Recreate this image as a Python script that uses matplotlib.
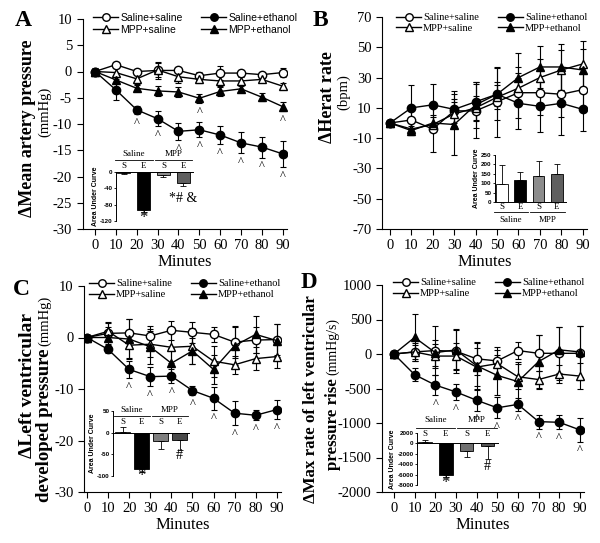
import matplotlib
matplotlib.use("Agg")
import matplotlib.pyplot as plt

plt.rcParams["font.family"] = "Liberation Serif"
plt.rcParams["axes.unicode_minus"] = False

# ---------------- data ----------------
minutes = [0, 10, 20, 30, 40, 50, 60, 70, 80, 90]
series_names = ["Saline+saline", "Saline+ethanol", "MPP+saline", "MPP+ethanol"]

# A: mean artery pressure (mmHg)
map_ss = [0, 1.3, 0.0, 0.2, 0.2, -0.8, -0.3, -0.3, -0.6, -0.2]
map_ss_err = [0.6, 0.5, 0.4, 1.6, 0.5, 0.8, 1.4, 0.6, 0.6, 0.9]
map_se = [0, -3.5, -7.3, -9.0, -11.4, -11.1, -12.1, -13.6, -14.4, -15.7]
map_se_err = [0.5, 2.0, 0.8, 1.4, 1.6, 1.4, 1.8, 2.0, 2.0, 2.5]
map_ms = [0, -0.2, -1.4, 0.3, -1.0, -1.5, -1.8, -1.8, -1.5, -2.8]
map_ms_err = [0.5, 0.8, 0.9, 1.3, 1.2, 0.7, 1.0, 0.7, 0.5, 0.6]
map_me = [0, -1.6, -3.2, -3.7, -3.9, -5.1, -3.8, -3.3, -4.9, -6.7]
map_me_err = [0.5, 0.6, 0.6, 0.9, 0.9, 0.9, 0.8, 0.6, 0.8, 0.9]

# B: heart rate (bpm)
hr_ss = [0, 2, -4, 8, 8, 14, 20, 20, 19, 22]
hr_ss_err = [1, 8, 15, 8, 18, 23, 17, 15, 15, 15]
hr_se = [0, 10, 12, 9, 14, 19, 13, 11, 13, 9]
hr_se_err = [1, 15, 14, 12, 13, 8, 17, 17, 21, 14]
hr_ms = [0, -4, -1, 6, 10, 17, 23, 30, 35, 39]
hr_ms_err = [1, 4, 5, 8, 8, 8, 10, 12, 13, 15]
hr_me = [0, -5, 0, -1, 12, 19, 30, 37, 37, 35]
hr_me_err = [1, 3, 5, 20, 15, 17, 16, 14, 15, 14]

# C: left ventricular developed pressure (mmHg)
lvdp_ss = [0, 0.8, 0.9, 0.3, 1.4, 1.0, 0.6, -0.9, -0.5, -0.4]
lvdp_ss_err = [0.5, 2.0, 2.6, 2.0, 1.8, 2.0, 1.5, 3.0, 2.5, 3.0]
lvdp_se = [0, -2.3, -6.2, -7.6, -7.5, -10.3, -11.8, -14.7, -15.1, -14.0]
lvdp_se_err = [0.5, 0.8, 1.7, 1.8, 1.3, 0.9, 2.2, 2.3, 1.0, 1.8]
lvdp_ms = [0, 1.2, -1.5, -1.3, -1.9, -1.7, -4.6, -5.3, -4.1, -3.7]
lvdp_ms_err = [0.5, 1.8, 2.5, 2.5, 3.0, 3.5, 3.0, 1.8, 2.3, 2.2]
lvdp_me = [0, 0.0, -0.3, -1.8, -5.0, -2.6, -6.2, -1.6, 0.6, -0.6]
lvdp_me_err = [0.5, 2.0, 3.8, 3.4, 3.0, 2.5, 2.8, 3.8, 3.6, 3.2]

# D: max rate of LV pressure rise (mmHg/s)
dpdt_ss = [0, 30, 50, 40, -70, -100, 50, 10, 10, 10]
dpdt_ss_err = [20, 130, 360, 320, 230, 200, 120, 260, 380, 390]
dpdt_se = [0, -300, -450, -550, -670, -780, -730, -980, -990, -1100]
dpdt_se_err = [20, 90, 150, 120, 150, 150, 90, 100, 100, 170]
dpdt_ms = [0, 30, -30, -30, -190, -140, -330, -370, -290, -320]
dpdt_ms_err = [20, 100, 180, 190, 270, 200, 180, 130, 130, 190]
dpdt_me = [0, 240, 20, 60, -170, -310, -400, -110, 60, 30]
dpdt_me_err = [20, 340, 190, 290, 340, 290, 290, 380, 330, 370]

# insets: area under curve
auc_labels = ["S", "E", "S", "E"]
auc_map = [-3, -92, -8, -27]
auc_map_err = [2, 5, 5, 7]
auc_hr = [95, 115, 140, 150]
auc_hr_err = [100, 45, 80, 50]
auc_lvdp = [2, -85, -20, -17]
auc_lvdp_err = [12, 5, 18, 22]
auc_dpdt = [200, -6000, -1500, -500]
auc_dpdt_err = [500, 400, 1100, 2500]

# ---------------- figure ----------------
W, H = 600, 543
fig = plt.figure(figsize=(6, 5.43), dpi=100)
renderer = fig.canvas.get_renderer()


def px_axes(l, t, r, b):
    return fig.add_axes([l / W, 1 - b / H, (r - l) / W, (b - t) / H])


def stacked_label(x, y_bottom, bold_txt, bold_size, unit_txt, unit_size, gap=3):
    # bold words first (reading bottom-up), then the unit in normal weight
    t = fig.text(x / W, 1 - y_bottom / H, bold_txt, rotation=90, ha="center",
                 va="bottom", fontsize=bold_size, fontweight="bold")
    top = H - t.get_window_extent(renderer).y1
    fig.text(x / W, 1 - (top - gap) / H, unit_txt, rotation=90, ha="center",
             va="bottom", fontsize=unit_size)


styles = [
    dict(marker="o", mfc="white"),
    dict(marker="o", mfc="black"),
    dict(marker="^", mfc="white"),
    dict(marker="^", mfc="black"),
]


def main_panel(ax, data, ylim, yticks, xlim, carets, leg_anchor, leg_font, leg_size):
    handles = []
    for (vals, errs), st, name in zip(data, styles, series_names):
        ax.errorbar(minutes, vals, yerr=errs, fmt="none", ecolor="black",
                    elinewidth=0.8, capsize=2.5, capthick=0.8, zorder=2)
        ln, = ax.plot(minutes, vals, color="black", lw=1, mec="black",
                      ms=6, zorder=3, **st)
        handles.append(ln)
    for si, idxs in carets:
        vals, errs = data[si]
        for i in idxs:
            ax.annotate("^", (minutes[i], vals[i] - errs[i]), xytext=(0, -2),
                        textcoords="offset points", ha="center", va="top",
                        fontsize=9)
    ax.set_xlim(*xlim)
    ax.set_ylim(*ylim)
    ax.set_yticks(yticks)
    ax.set_xticks(minutes)
    ax.spines["top"].set_visible(False)
    ax.spines["right"].set_visible(False)
    ax.tick_params(labelsize=10.5, direction="out", length=4, width=0.8)
    ax.set_xlabel("Minutes", fontsize=12, labelpad=1)
    ax.legend([handles[0], handles[2], handles[1], handles[3]],
              [series_names[0], series_names[2], series_names[1], series_names[3]],
              ncol=2, frameon=False, loc="upper left",
              bbox_to_anchor=(leg_anchor[0] / W, 1 - leg_anchor[1] / H),
              bbox_transform=fig.transFigure, borderaxespad=0, borderpad=0,
              handlelength=2.4, handletextpad=0.2, columnspacing=1.8,
              labelspacing=0.15, markerscale=0.9,
              prop={"family": leg_font, "size": leg_size})


def inset(ax, vals, errs, ylim, yticks, colors, xlim, width):
    xs = list(range(len(vals)))
    ax.bar(xs, vals, width=width, color=colors, edgecolor="black", lw=0.6)
    one_side = [[0 if v >= 0 else e for v, e in zip(vals, errs)],
                [e if v >= 0 else 0 for v, e in zip(vals, errs)]]
    ax.errorbar(xs, vals, yerr=one_side, fmt="none", ecolor="black",
                elinewidth=0.6, capsize=2, capthick=0.6)
    ax.set_xlim(*xlim)
    ax.set_ylim(*ylim)
    ax.set_yticks(yticks)
    ax.set_xticks([])
    ax.patch.set_alpha(0)
    for s in ["top", "right"]:
        ax.spines[s].set_visible(False)
    ax.spines["bottom"].set_position(("data", 0))
    ax.spines["left"].set_linewidth(0.7)
    ax.spines["bottom"].set_linewidth(0.7)
    ax.tick_params(axis="y", length=1.5, width=0.6, pad=1)
    for t in ax.get_yticklabels():
        t.set_family("Liberation Sans")
        t.set_fontsize(4.5)
        t.set_fontweight("bold")
    ax.set_ylabel("Area Under Curve", family="Liberation Sans", fontsize=5,
                  fontweight="bold", labelpad=1)


def groups(ax, y_txt, y_line, y_se, fs=6.5):
    tr = ax.get_xaxis_transform()
    for i, lab in enumerate(auc_labels):
        ax.text(i, y_se, lab, transform=tr, ha="center", va="center", fontsize=fs)
    for g, name in enumerate(["Saline", "MPP"]):
        x0 = 2 * g
        ax.plot([x0 - 0.45, x0 + 1.45], [y_line, y_line], transform=tr,
                color="black", lw=0.6, clip_on=False)
        ax.text(x0 + 0.5, y_txt, name, transform=tr, ha="center", va="center",
                fontsize=fs)


# ---------- A ----------
axA = px_axes(82.5, 19, 287, 229)
main_panel(axA, [(map_ss, map_ss_err), (map_se, map_se_err),
                 (map_ms, map_ms_err), (map_me, map_me_err)],
           (-30, 10), range(-30, 11, 5), (-6, 92),
           [(1, range(2, 10)), (3, [5, 9])], (93, 13), "Liberation Sans", 7.5)
fig.text(28 / W, 1 - 128 / H, "ΔMean artery pressure", rotation=90,
         ha="center", va="center", fontsize=13, fontweight="bold")
fig.text(45 / W, 1 - 112 / H, "(mmHg)", rotation=90, ha="center",
         va="center", fontsize=10.5)
fig.text(15 / W, 1 - 10 / H, "A", fontsize=17, fontweight="bold", va="top")

iA = px_axes(116, 172, 193, 221)
inset(iA, auc_map, auc_map_err, (-120, 0), [0, -40, -80, -120],
      ["white", "black", "#8c8c8c", "#5f5f5f"], (-0.4, 3.5), 0.65)
groups(iA, 1.36, 1.245, 1.13)
iA.text(1, -112, "*", ha="center", va="center", fontsize=12)
iA.text(3, -64, "*# &", ha="center", va="center", fontsize=10)

# ---------- B ----------
axB = px_axes(382, 17, 587, 229)
main_panel(axB, [(hr_ss, hr_ss_err), (hr_se, hr_se_err),
                 (hr_ms, hr_ms_err), (hr_me, hr_me_err)],
           (-70, 70), range(-70, 71, 20), (-3.7, 92),
           [], (396, 13), "Liberation Serif", 7.5)
fig.text(327 / W, 1 - 97 / H, "ΔHerat rate", rotation=90, ha="center",
         va="center", fontsize=13, fontweight="bold")
fig.text(344 / W, 1 - 92 / H, "(bpm)", rotation=90, ha="center",
         va="center", fontsize=10.5)
fig.text(313 / W, 1 - 10 / H, "B", fontsize=17, fontweight="bold", va="top")

iB = px_axes(495, 155, 566, 202)
inset(iB, auc_hr, auc_hr_err, (0, 250), range(0, 251, 50),
      ["white", "black", "#8c8c8c", "#5f5f5f"], (-0.38, 3.5), 0.65)
groups(iB, -0.38, -0.21, -0.1)

# ---------- C ----------
axC = px_axes(84, 286, 281, 492)
main_panel(axC, [(lvdp_ss, lvdp_ss_err), (lvdp_se, lvdp_se_err),
                 (lvdp_ms, lvdp_ms_err), (lvdp_me, lvdp_me_err)],
           (-30, 10), range(-30, 11, 10), (-1.4, 92),
           [(1, range(2, 10))], (89, 279), "Liberation Serif", 7.5)
fig.text(28 / W, 1 - 386 / H, "ΔLeft ventricular", rotation=90, ha="center",
         va="center", fontsize=14, fontweight="bold")
stacked_label(45, 502, "developed pressure", 13.5, "(mmHg)", 10.5)
fig.text(13 / W, 1 - 279 / H, "C", fontsize=17, fontweight="bold", va="top")

iC = px_axes(113, 411, 189, 476)
inset(iC, auc_lvdp, auc_lvdp_err, (-100, 50), [50, 0, -50, -100],
      ["white", "black", "#7f7f7f", "#4a4a4a"], (-0.5, 3.5), 0.8)
groups(iC, 1.015, 0.93, 0.835)
iC.text(1, -101, "*", ha="center", va="center", fontsize=12)
iC.text(3, -52, "#", ha="center", va="center", fontsize=10)

# ---------- D ----------
axD = px_axes(382, 285, 584, 492)
main_panel(axD, [(dpdt_ss, dpdt_ss_err), (dpdt_se, dpdt_se_err),
                 (dpdt_ms, dpdt_ms_err), (dpdt_me, dpdt_me_err)],
           (-2000, 1000), range(-2000, 1001, 500), (-5.8, 92),
           [(1, range(2, 10))], (393, 278), "Liberation Serif", 7.5)
fig.text(311 / W, 1 - 399 / H, "ΔMax rate of left ventricular", rotation=90,
         ha="center", va="center", fontsize=12.2, fontweight="bold")
stacked_label(333, 470, "pressure rise", 12.2, "(mmHg/s)", 10)
fig.text(301 / W, 1 - 272 / H, "D", fontsize=16.5, fontweight="bold", va="top")

iD = px_axes(417, 433, 498, 485)
inset(iD, auc_dpdt, auc_dpdt_err, (-8000, 2000), range(-8000, 2001, 2000),
      ["white", "black", "#707070", "#555555"], (-0.38, 3.5), 0.65)
groups(iD, 1.25, 1.10, 0.98)
iD.text(1, -7600, "*", ha="center", va="center", fontsize=12)
iD.text(3, -4500, "#", ha="center", va="center", fontsize=10)

fig.savefig("out.png", dpi=100)
